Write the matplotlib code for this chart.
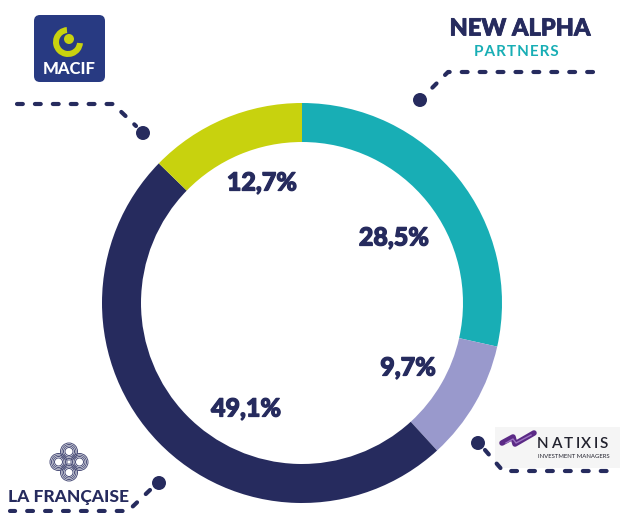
import matplotlib
matplotlib.use("Agg")
from matplotlib import pyplot as plt
from matplotlib import patheffects as pe
from matplotlib.patches import Circle, Wedge, FancyBboxPatch, Rectangle

## Data
partners = ["New Alpha Partners", "Natixis", "La Française", "MACIF"]
shares = [28.5, 9.7, 49.1, 12.7]
share_labels = ["28,5%", "9,7%", "49,1%", "12,7%"]
colors = ["#18AEB5", "#9999CC", "#262B5E", "#C8D20E"]

## Layout (pixel coords, y going down)
label_pos = [(394, 238), (408, 368), (246, 409), (262, 183)]
navy = "#262B5E"
heavy = [pe.withStroke(linewidth=0.9, foreground=navy)]

fig = plt.figure(figsize=(6.2, 5.13), dpi=100)
ax = fig.add_axes([0, 0, 1, 1])

# donut - y axis is inverted below, so counterclock=True draws clockwise on screen
ax.pie(shares, colors=colors, center=(302, 303), radius=200,
       startangle=-90, counterclock=True,
       wedgeprops=dict(width=39, linewidth=0))

for lab, (x, y) in zip(share_labels, label_pos):
    ax.text(x, y, lab, ha="center", va="center", fontsize=18,
            fontweight="black", family="Lato", color=navy, path_effects=heavy)

ax.set_xlim(0, 620)
ax.set_ylim(513, 0)
ax.set_aspect("equal")
ax.axis("off")


# dashed connectors with a dot at the end
def connector(pts, dot):
    xs = [p[0] for p in pts]
    ys = [p[1] for p in pts]
    ax.plot(xs, ys, color=navy, lw=3, linestyle=(0, (1.4, 2.9)),
            dash_capstyle="round", solid_capstyle="round")
    ax.add_patch(Circle(dot, 7, color=navy, lw=0))


connector([(17, 104), (113, 104), (136, 126)], (143, 133))
connector([(593, 72), (448, 72), (428, 92)], (420, 100))
connector([(485, 450), (503, 471), (613, 471)], (478, 443))
connector([(150, 490), (128, 511), (10, 511)], (159, 483))

#### MACIF logo ####
ax.add_patch(FancyBboxPatch((36, 17), 67, 63, boxstyle="round,pad=2,rounding_size=6",
                            color="#283A82", lw=0))
ax.add_patch(Wedge((68, 42), 15, 5, 265, width=6, color="#C8D20E", lw=0))
ax.add_patch(Circle((69, 39), 5, color="#C8D20E", lw=0))
ax.text(69, 69, "MACIF", ha="center", va="center", fontsize=12,
        fontweight="black", family="Lato", color="white")

#### New Alpha logo ####
ax.text(520, 28, "NEW ALPHA", ha="center", va="center", fontsize=17,
        fontweight="black", family="Lato", color=navy,
        path_effects=[pe.withStroke(linewidth=0.6, foreground=navy)])
ax.text(516, 52, "P A R T N E R S".replace(" ", "\u200a"), ha="center", va="center",
        fontsize=11, fontweight="bold", family="Lato", color="#18AEB5")

#### Natixis logo ####
ax.add_patch(Rectangle((495, 427), 125, 41, color="#F5F5F5", lw=0))
ax.plot([502, 513, 515, 534], [443, 437, 444, 433], color="#5B2A86", lw=4,
        solid_capstyle="round", solid_joinstyle="round")
ax.plot([506, 513, 516, 531], [443, 439, 443, 435], color="#9B73C0", lw=1)
char_w = {"N": 13, "A": 12, "T": 11, "I": 5, "X": 12, "S": 11}
x = 537
for ch in "NATIXIS":
    ax.text(x, 444, ch, ha="left", va="center", fontsize=11,
            fontweight="semibold", family="Lato", color="#22222E")
    x += char_w[ch] + 0.8
ax.text(538, 457, "INVESTMENT MANAGERS", ha="left", va="center", fontsize=4.3,
        family="Lato", color="#22222E")

#### La Française logo ####
for dx, dy in [(-10.5, 0), (10.5, 0), (0, -10.5), (0, 10.5)]:
    for r in (4, 5.5, 7, 8.5):
        ax.add_patch(Circle((69 + dx, 462 + dy), r, fill=False,
                            edgecolor="#4A4E78", lw=0.7))
ax.text(68, 497, "LA FRANÇAISE", ha="center", va="center", fontsize=12.5,
        fontweight="black", family="Lato", color=navy)

plt.savefig("out.png", dpi=100)
